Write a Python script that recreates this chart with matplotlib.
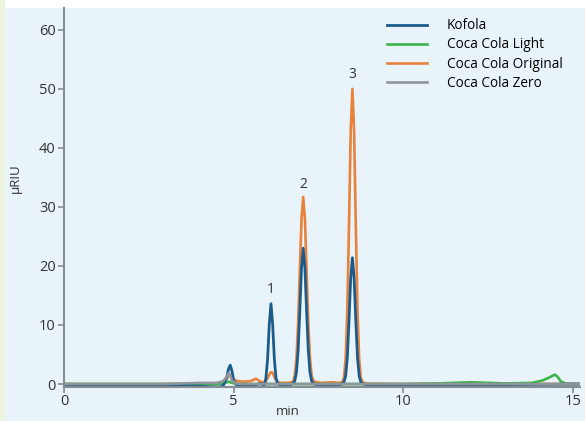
import matplotlib
matplotlib.use("Agg")
import matplotlib.pyplot as plt
from matplotlib.patches import Rectangle

plt.rcParams["font.family"] = ["Open Sans", "DejaVu Sans"]

# retention time (min) shared by Kofola and Coca Cola Original
t = [0, 1, 2, 3, 3.8, 4.3, 4.6, 4.7, 4.8, 4.85, 4.9, 4.95, 5.0, 5.1, 5.3,
     5.5, 5.65, 5.8, 5.9, 5.95, 6.0, 6.05, 6.1, 6.15, 6.2, 6.25, 6.3, 6.4,
     6.6, 6.75, 6.8, 6.85, 6.9, 6.95, 7.0, 7.05, 7.1, 7.15, 7.2, 7.25, 7.3,
     7.35, 7.45, 7.6, 7.9, 8.1, 8.2, 8.25, 8.3, 8.35, 8.4, 8.45, 8.5, 8.55,
     8.6, 8.65, 8.7, 8.75, 8.8, 8.9, 9.0, 10.0, 11.0, 12.0, 13.0, 14.0, 15.2]

kofola = [-0.1, -0.15, -0.2, -0.25, -0.3, -0.45, -0.5, -0.2, 1.2, 2.6, 3.2,
          2.2, 0.6, -0.3, -0.4, -0.2, -0.1, 0.1, -0.3, 0.95, 4.2, 10.1, 13.6,
          10.1, 4.2, 0.95, 0.1, -0.3, -0.3, 0.1, 0.5, 1.95, 5.7, 12.4, 19.7,
          23.0, 19.7, 12.4, 5.7, 1.95, 0.5, 0.1, -0.2, -0.25, -0.3, -0.3, 0.05,
          0.3, 1.35, 4.5, 10.7, 18.0, 21.4, 18.0, 10.7, 4.5, 1.35, 0.3, 0.05,
          -0.1, -0.1, -0.1, -0.1, -0.1, -0.1, -0.05, 0.0]

original = [0, 0, 0, 0, 0.1, 0.05, 0.1, 0.3, 0.9, 1.4, 1.5, 1.2, 0.8, 0.5,
            0.4, 0.5, 0.9, 0.4, 0.3, 0.5, 1.0, 1.6, 2.0, 1.9, 1.2, 0.6, 0.3,
            0.2, 0.2, 0.35, 1.4, 4.3, 10.3, 19.2, 28.0, 31.7, 28.0, 19.2, 10.3,
            4.3, 1.4, 0.5, 0.3, 0.2, 0.3, 0.2, 0.3, 1.05, 4.2, 12.5, 27.0, 42.9,
            50.0, 42.9, 27.0, 12.5, 4.2, 1.05, 0.3, 0.1, 0.05, 0, 0.05, 0.1, 0,
            0, 0]

t_light = [0, 4.5, 4.75, 4.85, 4.95, 5.1, 6, 8, 10, 11, 12, 13, 13.8, 14.1,
           14.3, 14.4, 14.47, 14.55, 14.65, 14.8, 15.2]
light = [0, 0, 0.2, 0.4, 0.2, 0, 0, 0, 0, 0.1, 0.3, 0.1, 0.2, 0.6, 1.1, 1.4,
         1.6, 1.2, 0.4, 0.05, 0]

t_zero = [0, 3, 4, 4.5, 4.7, 4.8, 4.85, 4.9, 4.95, 5.05, 5.2, 6, 8, 10, 12,
          15.2]
zero = [0, 0, 0.2, 0.2, 0.5, 1.3, 1.8, 1.5, 0.6, 0.1, 0, 0, 0, 0, 0, 0]

peak_labels = ["1", "2", "3"]
peak_t = [6.1, 7.05, 8.5]
peak_y = [16.0, 33.8, 52.5]

bg = "#e8f4f9"
c_kofola = "#1b5c8c"
c_light = "#3db34a"
c_orig = "#e8823c"
c_zero = "#8e969c"
axis_c = "#858c92"
txt_c = "#333333"

fig = plt.figure(figsize=(5.85, 4.21), dpi=100, facecolor=bg)
fig.patches.append(Rectangle((0, 0.981), 1, 0.019, transform=fig.transFigure,
                             facecolor="white", edgecolor="none", zorder=-1))
fig.patches.append(Rectangle((0, 0), 0.009, 1, transform=fig.transFigure,
                             facecolor="#ecf3de", edgecolor="none", zorder=-1))

ax = fig.add_axes([0.1094, 0.0808, 0.8816, 0.9002])
ax.set_facecolor(bg)

l_orig, = ax.plot(t, original, color=c_orig, lw=1.9)
l_light, = ax.plot(t_light, light, color=c_light, lw=1.9)
l_kof, = ax.plot(t, kofola, color=c_kofola, lw=2.0)
l_zero, = ax.plot(t_zero, zero, color=c_zero, lw=1.9)

for lab, x, y in zip(peak_labels, peak_t, peak_y):
    ax.text(x, y, lab, ha="center", va="center", fontsize=10, color=txt_c)

ax.set_xlim(0, 15.2)
ax.set_ylim(-0.5, 63.7)
ax.set_xticks([0, 5, 10, 15])
ax.set_yticks(range(0, 61, 10))

for s in ["top", "right"]:
    ax.spines[s].set_visible(False)
for s in ["left", "bottom"]:
    ax.spines[s].set_color(axis_c)
    ax.spines[s].set_linewidth(1.5)
ax.tick_params(colors=axis_c, labelcolor=txt_c, labelsize=10.5,
               length=4, width=1.2, direction="out")
ax.tick_params(axis="x", pad=1)
ax.tick_params(axis="y", pad=2)

ax.set_xlabel("min", fontsize=9.5, color=txt_c)
ax.xaxis.set_label_coords(0.434, -0.048)
ax.set_ylabel("µRIU", fontsize=9.5, color=txt_c)
ax.yaxis.set_label_coords(-0.081, 0.55)

ax.legend([l_kof, l_light, l_orig, l_zero],
          ["Kofola", "Coca Cola Light", "Coca Cola Original", "Coca Cola Zero"],
          loc="upper right", bbox_to_anchor=(0.99, 1.005), frameon=False,
          fontsize=9.8, handlelength=2.9, handletextpad=1.45, labelspacing=0.3)

fig.savefig("out.png", dpi=100, facecolor=fig.get_facecolor())
